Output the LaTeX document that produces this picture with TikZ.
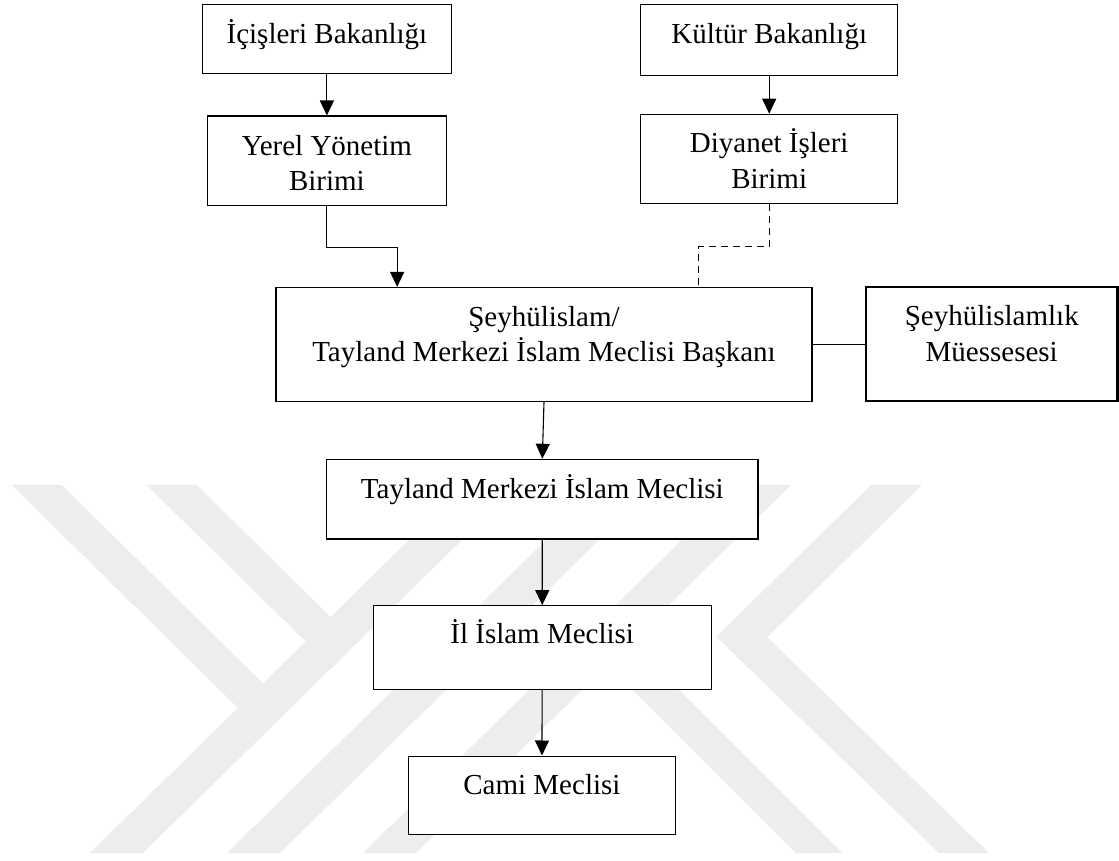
\documentclass[tikz,border=0pt]{standalone}
\usepackage{fontspec}
\setmainfont{Liberation Serif}
\usepackage{tikz}
\usetikzlibrary{arrows.meta,positioning,calc}

\definecolor{wmgray}{gray}{0.93}

\begin{document}
\begin{tikzpicture}[x=1pt, y=1pt,
    box/.style={draw, line width=1.1pt, fill=white, inner sep=0pt, align=center,
        font=\fontsize{29}{35.5}\selectfont, text height=20pt},
    arr/.style={-{Triangle[length=15pt,width=14pt]}, line width=1.1pt},
    dashline/.style={line width=1.1pt, dash pattern=on 7pt off 5pt},
    wmark/.style={fill=wmgray}]
    \useasboundingbox (0,0) rectangle (1119,860);

    % Watermark
    \begin{scope}[shift={(0,860)}, yscale=-1]
        \fill[wmark] (11.7,485) -- (61.7,485) -- (263,683.4) -- (238,708) -- cycle;
        \fill[wmark] (146.7,485) -- (196.7,485) -- (330.7,617) -- (305.7,641.6) -- cycle;
        \fill[wmark] (90,853) -- (143,853) -- (518,485) -- (465,485) -- cycle;
        \fill[wmark] (227,853) -- (280,853) -- (655,485) -- (602,485) -- cycle;
        \fill[wmark] (363,853) -- (416,853) -- (791,485) -- (738,485) -- cycle;
        \fill[wmark] (871,485) -- (922,485) -- (767.3,637.2) -- (989,853) -- (939,853) -- (716.3,636.7) -- cycle;
        \fill[wmark] (607.7,665) -- (631.3,642) -- (842.3,853) -- (795.7,853) -- cycle;
    \end{scope}

    % Ministries
    \node[box, minimum width=248.3pt, minimum height=68.6pt, text depth=11.4pt] (icisleri) at (326.9,821) {İçişleri Bakanlığı};
    \node[box, minimum width=257pt, minimum height=70.6pt, text depth=13.4pt] (kultur) at (769.2,820) {Kültür Bakanlığı};

    % Units
    \node[box, minimum width=239.7pt, minimum height=89.7pt, text height=59.6pt, text depth=0pt] (yerel) at (326.9,699.1) {Yerel Yönetim\\Birimi};
    \node[box, minimum width=257pt, minimum height=89.4pt, text height=58.6pt, text depth=0pt] (diyanet) at (769.2,701) {Diyanet İşleri\\Birimi};

    % Seyhulislam
    \node[box, minimum width=536pt, minimum height=113.7pt, text height=35pt, text depth=0pt] (seyh) at (544,515.7) {Şeyhülislam/\\Tayland Merkezi İslam Meclisi Başkanı};
    \node[box, line width=2.3pt, minimum width=251.5pt, minimum height=114pt, text height=34.4pt, text depth=0pt] (muessese) at (991.75,515.7) {Şeyhülislamlık\\Müessesesi};

    % Councils
    \node[box, minimum width=431.3pt, minimum height=79.7pt, text depth=21.8pt] (tmim) at (542.3,360.8) {Tayland Merkezi İslam Meclisi};
    \node[box, minimum width=337.7pt, minimum height=83.6pt, text depth=28.4pt] (il) at (542.2,212.5) {İl İslam Meclisi};
    \node[box, minimum width=267.2pt, minimum height=78.3pt, text depth=21.8pt] (cami) at (541.9,64.8) {Cami Meclisi};

    % Connectors
    \coordinate (bendL) at (326.9,612.7);
    \coordinate (bendR) at (769.2,613.3);
    \draw[arr] (icisleri) -- (yerel);
    \draw[arr] (kultur) -- (diyanet);
    \draw[arr] (yerel.south) -- (bendL) -| ([xshift=121.7pt]seyh.north west);
    \draw[dashline] (diyanet.south) -- (bendR) -| ([xshift=-113.7pt]seyh.north east);
    \draw[line width=1.1pt] (seyh) -- (muessese);
    \draw[arr] (seyh.south) -- (tmim.north);
    \draw[arr] (tmim) -- (il);
    \draw[arr] (il) -- (cami);
\end{tikzpicture}
\end{document}
